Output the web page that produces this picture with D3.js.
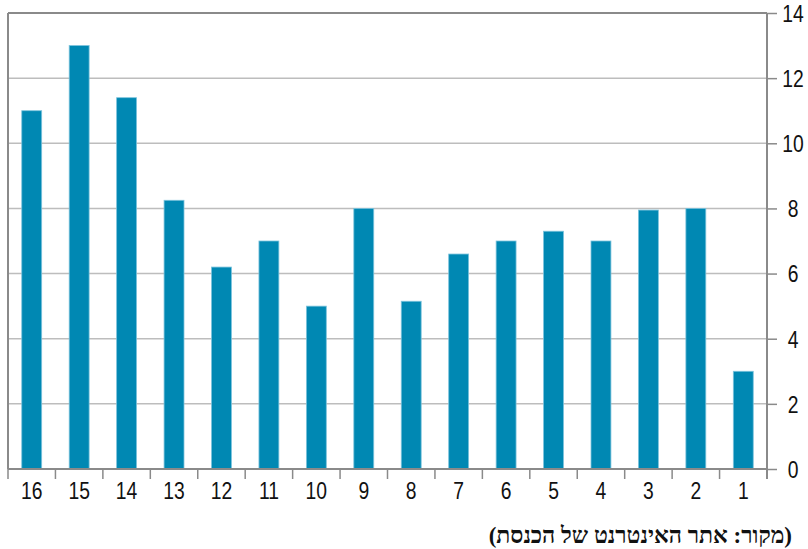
<!DOCTYPE html>
<html>
<head>
<meta charset="utf-8">
<script src="https://cdn.jsdelivr.net/npm/d3@7"></script>
<style>
  body { margin: 0; background: #fff; }
  .tick-label { font-family: "Liberation Sans", Arial, sans-serif; font-size: 23px; fill: #111; }
</style>
</head>
<body>
<svg id="chart" width="808" height="549"></svg>
<script>
// categories, left to right
var categories = ['16', '15', '14', '13', '12', '11', '10', '9', '8', '7', '6', '5', '4', '3', '2', '1'];
var values = [11.0, 13.0, 11.4, 8.25, 6.2, 7.0, 5.0, 8.0, 5.15, 6.6, 7.0, 7.3, 7.0, 7.95, 8.0, 3.0];
var yTicks = [0, 2, 4, 6, 8, 10, 12, 14];
var sourceText = '(מקור: אתר האינטרנט של הכנסת)';

var svg = d3.select('#chart');

var plotLeft = 8, plotRight = 767, plotTop = 13, plotBottom = 469;
var narrow = 0.84;

var x = d3.scaleBand()
    .domain(categories)
    .range([plotLeft, plotRight])
    .paddingInner(0.58)
    .paddingOuter(0.29);

var xb = d3.scaleBand().domain(categories).range([plotLeft, plotRight]);

var y = d3.scaleLinear()
    .domain([0, 14])
    .range([plotBottom, plotTop]);

// gridlines
svg.append('g')
    .selectAll('line')
    .data(yTicks.filter(function(d) { return d > 0 && d < 14; }))
    .enter().append('line')
    .attr('x1', plotLeft).attr('x2', plotRight)
    .attr('y1', function(d) { return y(d); })
    .attr('y2', function(d) { return y(d); })
    .attr('stroke', '#bdbdbd')
    .attr('stroke-width', 1.5);

// bars
svg.append('g')
    .selectAll('rect')
    .data(values)
    .enter().append('rect')
    .attr('x', function(d, i) { return x(categories[i]); })
    .attr('width', x.bandwidth())
    .attr('y', function(d) { return y(d); })
    .attr('height', function(d) { return y(0) - y(d); })
    .attr('fill', '#0088b3')
    .attr('stroke', '#7cc3dc')
    .attr('stroke-width', 0.8);

// frame
svg.append('line').attr('x1', plotLeft).attr('x2', plotRight).attr('y1', plotTop).attr('y2', plotTop)
    .attr('stroke', '#8a8a8a').attr('stroke-width', 2);
svg.append('line').attr('x1', plotLeft).attr('x2', plotLeft).attr('y1', plotTop).attr('y2', plotBottom)
    .attr('stroke', '#8a8a8a').attr('stroke-width', 2);

// right y axis
var yAxis = d3.axisRight(y)
    .tickValues(yTicks)
    .tickSize(10)
    .tickFormat('');

var yg = svg.append('g')
    .attr('transform', 'translate(' + plotRight + ',0)')
    .call(yAxis);
yg.select('.domain').remove();
yg.selectAll('.tick line').attr('stroke', '#8a8a8a').attr('stroke-width', 1.5);
yg.selectAll('.tick').append('text')
    .attr('class', 'tick-label')
    .attr('text-anchor', 'middle')
    .attr('dy', '0.36em')
    .attr('transform', 'translate(26,0) scale(' + narrow + ',1)')
    .text(function(d) { return d; });
svg.append('line').attr('x1', plotRight).attr('x2', plotRight).attr('y1', plotTop).attr('y2', plotBottom + 10)
    .attr('stroke', '#8a8a8a').attr('stroke-width', 2);

// bottom x axis
var xg = svg.append('g')
    .attr('transform', 'translate(0,' + plotBottom + ')');
xg.append('line').attr('x1', plotLeft).attr('x2', plotRight).attr('y1', 0).attr('y2', 0)
    .attr('stroke', '#8a8a8a').attr('stroke-width', 2);
xg.selectAll('.sep')
    .data(categories.concat(['end']))
    .enter().append('line')
    .attr('class', 'sep')
    .attr('x1', function(d, i) { return plotLeft + i * xb.bandwidth(); })
    .attr('x2', function(d, i) { return plotLeft + i * xb.bandwidth(); })
    .attr('y1', 0).attr('y2', 10)
    .attr('stroke', '#8a8a8a').attr('stroke-width', 1.5);
xg.selectAll('.cat')
    .data(categories)
    .enter().append('text')
    .attr('class', 'tick-label')
    .attr('text-anchor', 'middle')
    .attr('transform', function(d) {
        return 'translate(' + (xb(d) + xb.bandwidth() / 2) + ',30) scale(' + narrow + ',1)';
    })
    .text(function(d) { return d; });

// source note
svg.append('text')
    .attr('x', 792)
    .attr('y', 543)
    .attr('direction', 'rtl')
    .attr('text-anchor', 'start')
    .style('font-family', '"Liberation Serif", "DejaVu Serif", serif')
    .style('font-weight', 'bold')
    .style('font-size', '23px')
    .attr('fill', '#111')
    .text(sourceText);
</script>
</body>
</html>
